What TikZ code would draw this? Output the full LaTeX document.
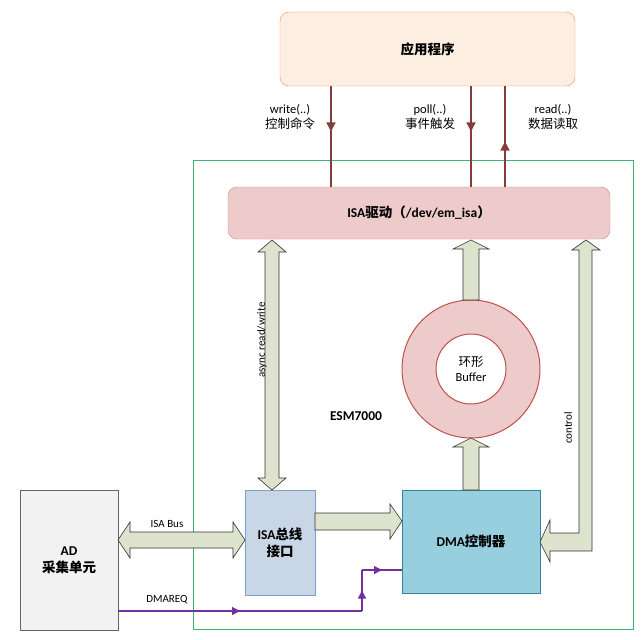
\documentclass[tikz,border=0pt]{standalone}
\usepackage{fontspec}
\setmainfont{Carlito}
\newfontfamily\cjk{Noto Sans CJK SC}
\usetikzlibrary{decorations.markings,arrows.meta}
\definecolor{appF}{HTML}{FDEEE2}\definecolor{appD}{HTML}{F79646}
\definecolor{drvF}{HTML}{EDCBCB}\definecolor{drvD}{HTML}{C0504D}
\definecolor{blkF}{HTML}{DDE3CC}\definecolor{grn}{HTML}{3CB371}
\definecolor{isaF}{HTML}{C9D6E6}\definecolor{isaD}{HTML}{7F9FCB}
\definecolor{dmaF}{HTML}{97CFDE}\definecolor{dmaD}{HTML}{31859C}
\definecolor{cmd}{HTML}{843C3C}\definecolor{pur}{HTML}{7030A0}
\begin{document}
\begin{tikzpicture}[x=1pt,y=-1pt,
  txt/.style={font=\fontsize{12.5}{15}\selectfont,align=center,inner sep=0},
  lbl/.style={font=\fontsize{11}{13}\selectfont,align=center,inner sep=0},
  bold/.style={font=\fontsize{13.5}{17}\selectfont\bfseries,align=center,inner sep=0},
  blk/.style={draw=black!80,fill=blkF,line width=0.6pt},
  cmdline/.style={draw=cmd,line width=1.6pt,postaction={decorate},decoration={markings,mark=at position 0.45 with {\arrow{Triangle[length=9pt,width=9pt]}}}},
  purline/.style={draw=pur,line width=1.2pt,postaction={decorate},decoration={markings,mark=at position 0.5 with {\arrow{Triangle[length=8pt,width=8pt]}}}}]
\useasboundingbox (0,0) rectangle (643,640);
\draw[grn,line width=0.9pt] (193,160) rectangle (633,629);
\node[draw=appD,fill=appF,rounded corners=9pt,minimum width=295pt,minimum height=74pt,bold] (app) at (427.5,49) {\cjk 应用程序};
\node[draw=drvD!70,fill=drvF,rounded corners=9pt,minimum width=382pt,minimum height=52pt,bold] (drv) at (419,213) {ISA{\cjk 驱动（}/dev/em\_isa{\cjk ）}};
% command lines
\coordinate (a1) at (331,86);\coordinate (b1) at (331,187);
\coordinate (a2) at (471,86);\coordinate (b2) at (471,187);
\coordinate (a3) at (505,86);\coordinate (b3) at (505,187);
\path[cmdline] (a1)--(b1);
\path[cmdline] (a2)--(b2);
\path[cmdline] (b3)--(a3);
\node[txt] at (290,117) {write(..)\\{\cjk 控制命令}};
\node[txt] at (430,117) {poll(..)\\{\cjk 事件触发}};
\node[txt] at (553,117) {read(..)\\{\cjk 数据读取}};
% ring
\node[circle,draw=drvD,fill=drvF,line width=1pt,minimum size=138pt,inner sep=0] (ring) at (471,369) {};
\node[circle,draw=drvD,fill=white,line width=1pt,minimum size=70pt,inner sep=0,txt] (buf) at (471,369) {{\cjk 环形}\\Buffer};
% boxes
\node[draw=black!60,fill=black!5,minimum width=98pt,minimum height=140pt,bold] (ad) at (69,560) {AD\\{\cjk 采集单元}};
\node[draw=isaD,fill=isaF,line width=0.8pt,minimum width=70pt,minimum height=105pt,bold] (isa) at (280,542.5) {ISA{\cjk 总线}\\{\cjk 接口}};
\node[draw=dmaD,fill=dmaF,line width=0.8pt,minimum width=138pt,minimum height=103pt,bold] (dma) at (471,541.5) {DMA{\cjk 控制器}};
\node[bold] (esm) at (356,416) {ESM7000};
% block arrows
\draw[blk] (272,240)--(286,252)--(279,252)--(279,478)--(286,478)--(272,490)--(258,478)--(265,478)--(265,252)--(258,252)--cycle;
\node[lbl,rotate=90] at (262,340) {async read/write};
\draw[blk] (118,540)--(130,522)--(130,532)--(233,532)--(233,522)--(245,540)--(233,558)--(233,548)--(130,548)--(130,558)--cycle;
\node[lbl] at (167,524) {ISA Bus};
\draw[blk] (315,513)--(390,513)--(390,504)--(402,521)--(390,539)--(390,530)--(315,530)--cycle;
\draw[blk] (463,300)--(463,249)--(453,249)--(471,240)--(489,249)--(479,249)--(479,300)--cycle;
\draw[blk] (463,490)--(463,447)--(453,447)--(471,438)--(489,447)--(479,447)--(479,490)--cycle;
\draw[blk] (586,240)--(600,250)--(592,250)--(592,551)--(550,551)--(550,562)--(540,542)--(550,520)--(550,533)--(579,533)--(579,250)--(572,250)--cycle;
\node[lbl,rotate=90] at (568,428) {control};
% DMAREQ
\coordinate (r0) at (118,611);\coordinate (r1) at (362,611);\coordinate (r2) at (362,570);\coordinate (r3) at (402,570);
\path[purline] (r0)--(r1);
\path[purline] (r1)--(r2);
\path[purline] (r2)--(r3);
\node[lbl] at (167,600) {DMAREQ};
\end{tikzpicture}
\end{document}
